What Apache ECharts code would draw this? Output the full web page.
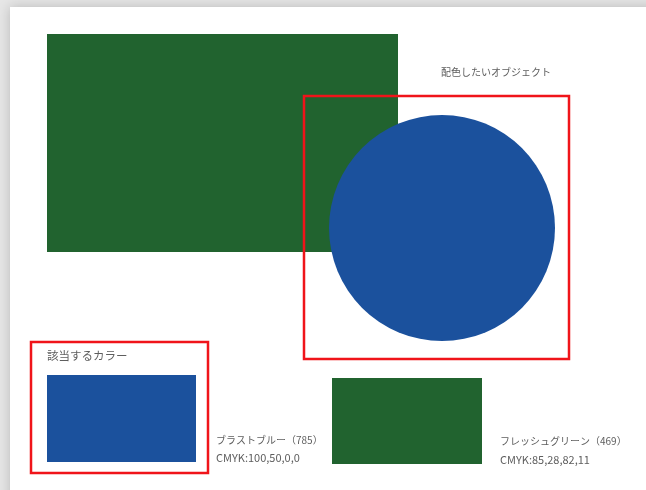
<!DOCTYPE html>
<html><head><meta charset="utf-8">
<script src="https://cdn.jsdelivr.net/npm/echarts@6/dist/echarts.min.js"></script>
<style>html,body{margin:0;padding:0;background:#e6e6e6;}#c{width:646px;height:490px;}</style>
</head><body><div id="c"></div>
<script>
// Diagram units (coordinate space of the picture)
const rectNames = ['mainGreen', 'swatchBlue', 'swatchGreen'];
const rectX0 = [47, 47, 332];
const rectY0 = [34, 375, 378];
const rectX1 = [398, 196, 482];
const rectY1 = [252, 462, 464];
const rectFill = ['#21632f', '#1b519d', '#21632f'];

const circleCX = [442];
const circleCY = [228];
const circleR = [113];

const frameX0 = [304, 31];
const frameY0 = [96, 342];
const frameX1 = [569, 208];
const frameY1 = [359, 473];

const labelTexts = ['配色したいオブジェクト', '該当するカラー', 'ブラストブルー（785）', 'CMYK:100,50,0,0', 'フレッシュグリーン（469）', 'CMYK:85,28,82,11'];
const labelX = [441, 47, 216, 216, 500, 500];
const labelY = [72, 356, 440, 458, 441, 460];
const labelSize = [10, 11.5, 10, 11, 10, 11];

const chart = echarts.init(document.getElementById('c'), null, {renderer: 'canvas'});

const rectData = rectNames.map((n, i) => [rectX0[i], rectY0[i], rectX1[i], rectY1[i], i]);
const circleData = circleCX.map((c, i) => [c, circleCY[i], circleR[i]]);
const frameData = frameX0.map((x, i) => [x, frameY0[i], frameX1[i], frameY1[i]]);
const textData = labelTexts.map((t, i) => [labelX[i], labelY[i], i]);

chart.setOption({
  animation: false,
  backgroundColor: 'transparent',
  graphic: [
    {type: 'rect', z: -10, shape: {x: 10, y: 7, width: 660, height: 500},
     style: {fill: '#ffffff', shadowBlur: 12, shadowColor: 'rgba(0,0,0,0.2)'}}
  ],
  grid: {left: 0, right: 0, top: 0, bottom: 0},
  xAxis: {type: 'value', min: 0, max: 646, show: false},
  yAxis: {type: 'value', min: 0, max: 490, inverse: true, show: false},
  series: [
    {
      type: 'custom', z: 2,
      data: rectData,
      renderItem: function (params, api) {
        const p0 = api.coord([api.value(0), api.value(1)]);
        const p1 = api.coord([api.value(2), api.value(3)]);
        return {type: 'rect', shape: {x: p0[0], y: p0[1], width: p1[0] - p0[0], height: p1[1] - p0[1]},
          style: {fill: rectFill[api.value(4)]}};
      }
    },
    {
      type: 'custom', z: 3,
      data: circleData,
      renderItem: function (params, api) {
        const c = api.coord([api.value(0), api.value(1)]);
        const e = api.coord([api.value(0) + api.value(2), api.value(1)]);
        return {type: 'circle', shape: {cx: c[0], cy: c[1], r: e[0] - c[0]}, style: {fill: '#1b519d'}};
      }
    },
    {
      type: 'custom', z: 4,
      data: frameData,
      renderItem: function (params, api) {
        const p0 = api.coord([api.value(0), api.value(1)]);
        const p1 = api.coord([api.value(2), api.value(3)]);
        return {type: 'rect', shape: {x: p0[0], y: p0[1], width: p1[0] - p0[0], height: p1[1] - p0[1]},
          style: {fill: 'none', stroke: '#f0141a', lineWidth: 2.5}};
      }
    },
    {
      type: 'custom', z: 5,
      data: textData,
      renderItem: function (params, api) {
        const p = api.coord([api.value(0), api.value(1)]);
        const i = api.value(2);
        return {type: 'text', x: p[0], y: p[1],
          style: {text: labelTexts[i], fill: '#5e5e5e', fontSize: labelSize[i],
            fontFamily: '"Noto Sans CJK JP", sans-serif', verticalAlign: 'middle', align: 'left'}};
      }
    }
  ]
});
</script></body></html>
